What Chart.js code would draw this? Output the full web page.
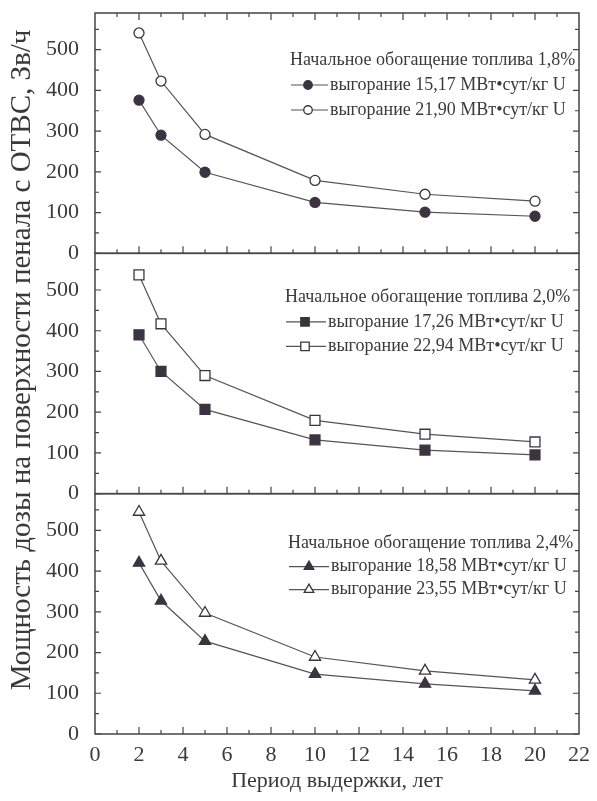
<!DOCTYPE html>
<html><head><meta charset="utf-8">
<script src="https://cdn.jsdelivr.net/npm/chart.js@4.4.0/dist/chart.umd.min.js"></script>
<style>html,body{margin:0;padding:0;background:#fff;} #wrap{width:597px;height:801px;position:relative;}</style>
</head><body><div id="wrap"><canvas id="c" width="597" height="801"></canvas></div>
<script>
// ---- data ----
const years = [2, 3, 5, 10, 15, 20];
const enr18Low  = [376, 290, 199, 125, 101, 91];
const enr18High = [541, 423, 292, 179, 145, 128];
const enr20Low  = [390, 300, 207, 132, 107, 95];
const enr20High = [537, 417, 290, 180, 146, 127];
const enr24Low  = [420, 327, 228, 147, 123, 106];
const enr24High = [545, 425, 297, 189, 155, 133];
const panelTitles = ['Начальное обогащение топлива 1,8%', 'Начальное обогащение топлива 2,0%', 'Начальное обогащение топлива 2,4%'];
const lowLabels  = ['выгорание 15,17 МВт•сут/кг U', 'выгорание 17,26 МВт•сут/кг U', 'выгорание 18,58 МВт•сут/кг U'];
const highLabels = ['выгорание 21,90 МВт•сут/кг U', 'выгорание 22,94 МВт•сут/кг U', 'выгорание 23,55 МВт•сут/кг U'];
const yTickValues = [0, 100, 200, 300, 400, 500];
const xTickValues = [0, 2, 4, 6, 8, 10, 12, 14, 16, 18, 20, 22];
const xTitle = 'Период выдержки, лет';
const yTitle = 'Мощность дозы на поверхности пенала с ОТВС, Зв/ч';

// ---- styling ----
const INK = '#3b3440';
const LINE = '#555';
const TXT = '#3a3a3a';
const SERIF = '"Liberation Serif", "Times New Roman", serif';
const axisIds = ['yTop', 'yMid', 'yBot'];
const styles = ['circle', 'rect', 'triangle'];
const radii = [5, 7, 6.5];

function pts(arr) { return years.map((x, i) => ({x: x, y: arr[i]})); }
function ds(label, arr, axis, style, r, filled) {
  return {
    label: label, data: pts(arr), yAxisID: axis,
    borderColor: LINE, borderWidth: 1.2,
    pointStyle: style, pointRadius: r, pointHoverRadius: r,
    pointBackgroundColor: filled ? INK : '#fff',
    pointBorderColor: INK, pointBorderWidth: 1.3,
    tension: 0, fill: false
  };
}
const lows = [enr18Low, enr20Low, enr24Low];
const highs = [enr18High, enr20High, enr24High];
const datasets = [];
for (let p = 0; p < 3; p++) {
  datasets.push(ds(lowLabels[p], lows[p], axisIds[p], styles[p], radii[p], true));
  datasets.push(ds(highLabels[p], highs[p], axisIds[p], styles[p], radii[p], false));
}

function yAxis(weight) {
  return {
    type: 'linear', position: 'left', stack: 'panels', stackWeight: 1, weight: weight,
    min: 0, max: 590, offset: false,
    afterBuildTicks: s => { s.ticks = yTickValues.map(v => ({value: v})); },
    afterFit: s => { s.width = 95; s.paddingTop = 0; s.paddingBottom = 0; },
    grid: {display: false}, border: {display: false},
    ticks: {color: TXT, padding: 8, autoSkip: false, font: {family: SERIF, size: 22}}
  };
}

const framePlugin = {
  id: 'frame',
  beforeDatasetsDraw(chart) {
    const ctx = chart.ctx, area = chart.chartArea, xs = chart.scales.x;
    ctx.save();
    ctx.strokeStyle = '#444';
    ctx.lineWidth = 1.5;
    axisIds.forEach((id, p) => {
      const s = chart.scales[id];
      const top = s.getPixelForValue(590), bot = s.getPixelForValue(0);
      ctx.strokeRect(area.left, top, area.right - area.left, bot - top);
      ctx.lineWidth = 1.2;
      ctx.beginPath();
      for (let v = 0; v <= 550; v += 50) {
        const y = s.getPixelForValue(v);
        const len = v % 100 === 0 ? 6 : 4;
        ctx.moveTo(area.left, y); ctx.lineTo(area.left + len, y);
        ctx.moveTo(area.right, y); ctx.lineTo(area.right - len, y);
      }
      for (let x = 1; x < 22; x++) {
        const px = xs.getPixelForValue(x);
        const len = x % 2 === 0 ? 7 : 4;
        ctx.moveTo(px, bot); ctx.lineTo(px, bot - len);
        if (p === 0) { ctx.moveTo(px, top); ctx.lineTo(px, top + len); }
      }
      ctx.stroke();
      ctx.lineWidth = 1.5;
    });
    ctx.restore();
  },
  afterDraw(chart) {
    const ctx = chart.ctx;
    ctx.save();
    ctx.fillStyle = TXT;
    // y title
    ctx.font = '29px ' + SERIF;
    ctx.textAlign = 'center'; ctx.textBaseline = 'middle';
    ctx.translate(22, 360); ctx.rotate(-Math.PI / 2);
    ctx.fillText(yTitle, 0, 0);
    ctx.setTransform(1, 0, 0, 1, 0, 0);
    // legends
    const leg = [
      {x: 290, y: 47, dy: 25, mx: 308, tx: 330},
      {x: 285, y: 44, dy: 24.5, mx: 305, tx: 328},
      {x: 288, y: 50, dy: 23, mx: 309, tx: 331}
    ];
    axisIds.forEach((id, p) => {
      const s = chart.scales[id];
      const top = s.getPixelForValue(590);
      const L = leg[p];
      ctx.font = '18px ' + SERIF;
      ctx.textAlign = 'left'; ctx.textBaseline = 'middle';
      ctx.fillStyle = TXT;
      ctx.fillText(panelTitles[p], L.x, top + L.y);
      [[lowLabels[p], true], [highLabels[p], false]].forEach((row, k) => {
        const y = top + L.y + L.dy * (k + 1);
        ctx.strokeStyle = LINE; ctx.lineWidth = 1.2;
        ctx.beginPath(); ctx.moveTo(L.x + 1, y); ctx.lineTo(L.tx - 2, y); ctx.stroke();
        ctx.fillStyle = row[1] ? INK : '#fff';
        ctx.strokeStyle = INK; ctx.lineWidth = 1.3;
        Chart.helpers.drawPoint(ctx, {pointStyle: styles[p], radius: radii[p] * 0.85, rotation: 0, borderWidth: 1.3}, L.mx, y);
        ctx.fillStyle = TXT;
        ctx.fillText(row[0], L.tx, y);
      });
    });
    ctx.restore();
  }
};

new Chart(document.getElementById('c'), {
  type: 'line',
  data: {datasets: datasets},
  plugins: [framePlugin],
  options: {
    responsive: false, animation: false,
    layout: {padding: {left: 0, right: 18, top: 13, bottom: 0}},
    plugins: {legend: {display: false}, tooltip: {enabled: false}},
    scales: {
      x: {
        type: 'linear', position: 'bottom', min: 0, max: 22,
        afterBuildTicks: s => { s.ticks = xTickValues.map(v => ({value: v})); },
        afterFit: s => { s.height = 67; s.paddingLeft = 0; s.paddingRight = 0; },
        grid: {display: false}, border: {display: false},
        ticks: {color: TXT, padding: 0, maxRotation: 0, autoSkip: false, font: {family: SERIF, size: 22}},
        title: {display: true, text: xTitle, color: TXT, font: {family: SERIF, size: 22}, padding: {top: 0, bottom: 7}}
      },
      yTop: yAxis(3),
      yMid: yAxis(2),
      yBot: yAxis(1)
    }
  }
});
</script></body></html>
